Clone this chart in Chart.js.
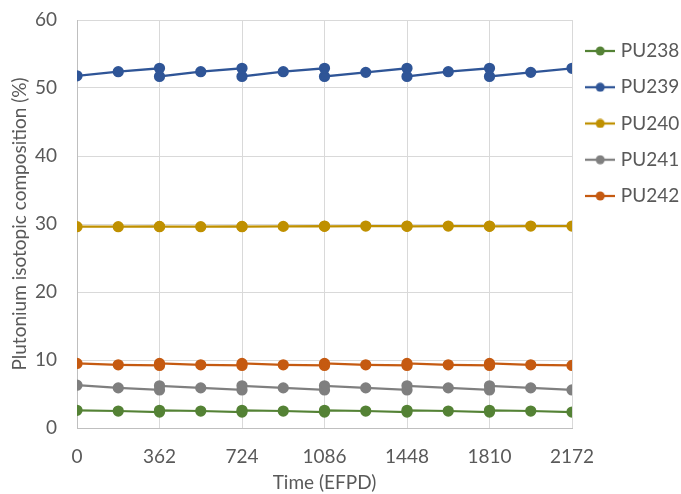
<!DOCTYPE html>
<html lang="en">
<head>
  <meta charset="UTF-8">
  <title>Plutonium isotopic composition</title>
  <script src="https://cdn.jsdelivr.net/npm/chart.js"></script>
  <style>
    body { margin: 0; background: #fff; }
    .wrap { width: 681px; height: 494px; position: relative; }
  </style>
</head>
<body>
  <div class="wrap"><canvas id="chart"></canvas></div>

  <script>
    // Time points (EFPD) - reload points appear twice
    const days = [0, 181, 362, 362, 543, 724, 724, 905, 1086, 1086, 1267, 1448, 1448, 1629, 1810, 1810, 1991, 2172];
    const xTicks = [0, 362, 724, 1086, 1448, 1810, 2172];

    const pu238 = [2.6, 2.5, 2.35, 2.6, 2.5, 2.35, 2.6, 2.5, 2.35, 2.6, 2.5, 2.35, 2.6, 2.5, 2.35, 2.6, 2.5, 2.35];
    const pu239 = [51.8, 52.4, 52.9, 51.7, 52.4, 52.9, 51.7, 52.4, 52.9, 51.7, 52.3, 52.9, 51.7, 52.4, 52.9, 51.7, 52.3, 52.9];
    const pu240 = [29.6, 29.6, 29.65, 29.6, 29.6, 29.65, 29.6, 29.65, 29.7, 29.65, 29.7, 29.7, 29.65, 29.7, 29.7, 29.65, 29.7, 29.7];
    const pu241 = [6.3, 5.9, 5.6, 6.2, 5.9, 5.6, 6.2, 5.9, 5.6, 6.2, 5.9, 5.6, 6.2, 5.9, 5.6, 6.2, 5.9, 5.6];
    const pu242 = [9.5, 9.3, 9.2, 9.5, 9.3, 9.2, 9.5, 9.3, 9.2, 9.5, 9.3, 9.2, 9.5, 9.3, 9.2, 9.5, 9.3, 9.2];

    const names = ['PU238', 'PU239', 'PU240', 'PU241', 'PU242'];
    const seriesList = [pu238, pu239, pu240, pu241, pu242];
    const colors = ['#548235', '#2f5597', '#bf9000', '#7f7f7f', '#c55a11'];

    const textColor = '#595959';
    const fontFamily = 'Lato, "Liberation Sans", sans-serif';
    const fontSize = 19;

    // little line-with-dot icon for the legend
    function legendIcon(color) {
      const c = document.createElement('canvas');
      c.width = 30; c.height = 10;
      const g = c.getContext('2d');
      g.strokeStyle = color;
      g.lineWidth = 2.25;
      g.beginPath(); g.moveTo(0, 5); g.lineTo(30, 5); g.stroke();
      g.fillStyle = color;
      g.beginPath(); g.arc(15, 5, 4.5, 0, Math.PI * 2); g.fill();
      return c;
    }

    const datasets = names.map((name, i) => ({
      label: name,
      data: days.map((d, j) => ({ x: d, y: seriesList[i][j] })),
      borderColor: colors[i],
      backgroundColor: colors[i],
      borderWidth: 2.25,
      pointRadius: 4.5,
      pointHoverRadius: 4.5,
      showLine: true,
      tension: 0
    }));

    // fix legend width so the plot ends where it does in the original
    const legendWidth = {
      id: 'legendWidth',
      beforeLayout(chart) {
        const lg = chart.legend;
        if (lg && !lg._patched) {
          const fit = lg.fit;
          lg.fit = function () { fit.call(this); this.width = 109; };
          lg._patched = true;
        }
      }
    };

    new Chart(document.getElementById('chart'), {
      type: 'scatter',
      data: { datasets: datasets },
      plugins: [legendWidth],
      options: {
        responsive: true,
        maintainAspectRatio: false,
        animation: false,
        layout: { padding: { top: 0, right: 0, bottom: 0, left: 2 } },
        plugins: {
          tooltip: { enabled: false },
          legend: {
            position: 'right',
            align: 'start',
            title: { display: true, text: '', font: { size: 1 }, padding: { top: 23, bottom: 0 } },
            labels: {
              color: textColor,
              font: { family: fontFamily, size: fontSize },
              usePointStyle: true,
              pointStyleWidth: 22,
              boxHeight: 10,
              padding: 17.25,
              generateLabels(chart) {
                const items = Chart.defaults.plugins.legend.labels.generateLabels(chart);
                items.forEach((it, i) => { it.pointStyle = legendIcon(colors[i]); });
                return items;
              }
            }
          }
        },
        scales: {
          x: {
            type: 'linear',
            min: 0,
            max: 2172,
            afterBuildTicks(scale) { scale.ticks = xTicks.map(v => ({ value: v })); },
            afterFit(scale) { scale.height = 66; },
            grid: { color: '#d9d9d9', drawTicks: false },
            border: { color: '#bfbfbf' },
            ticks: { color: textColor, font: { family: fontFamily, size: fontSize }, padding: 17, callback: v => String(v) },
            title: { display: true, text: 'Time (EFPD)', color: textColor, font: { family: fontFamily, size: fontSize }, padding: { top: 0, bottom: 0 } }
          },
          y: {
            min: 0,
            max: 60,
            afterFit(scale) { scale.width = 75; scale.paddingTop = 20; },
            ticks: { stepSize: 10, color: textColor, font: { family: fontFamily, size: fontSize }, padding: 20 },
            grid: { color: '#d9d9d9', drawTicks: false },
            border: { color: '#bfbfbf' },
            title: { display: true, text: 'Plutonium isotopic composition (%)', color: textColor, font: { family: fontFamily, size: fontSize }, padding: { top: 6, bottom: 4 } }
          }
        }
      }
    });
  </script>
</body>
</html>
